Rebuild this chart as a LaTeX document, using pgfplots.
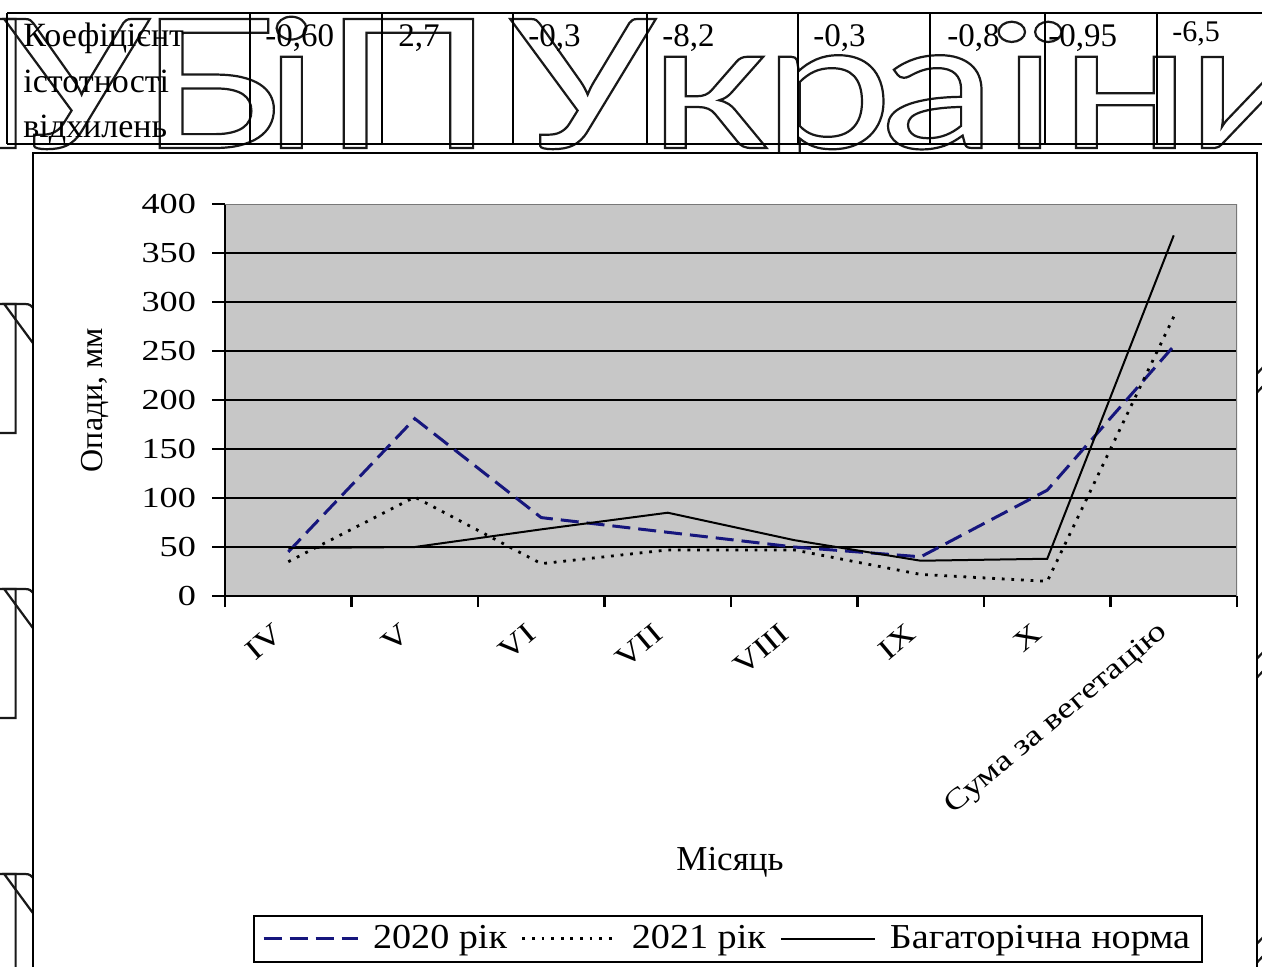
\documentclass[border=0pt]{standalone}
\usepackage{fontspec}
\setmainfont{Liberation Serif}
\newfontfamily\tickfont[FakeStretch=1.25]{Liberation Serif}
\newfontfamily\legfont[FakeStretch=1.09]{Liberation Serif}
\newfontfamily\wmfont[FakeStretch=1.3]{Lato}
\usepackage{pgfplots}
\pgfplotsset{compat=1.18}

\definecolor{plotgray}{RGB}{199,199,199}
\definecolor{framegray}{RGB}{120,120,120}
\definecolor{navyline}{RGB}{22,22,125}

% hollow (stroked) letters of the background lettering
\newcommand\hollow[1]{{\color{white}\special{pdf:literal direct 0.1 G 1 Tr 1.1 w}#1\special{pdf:literal direct 0 Tr}}}

% one row of the background lettering, baseline at #1 (in px units of the scope)
\newcommand\wmrow[1]{%
  \foreach \lx/\lt in {-142/Н,3/У,138/Б,263/і,322/П,509/У,648/к,762/р,880/а,1001/ї,1059/н,1185/и}{
    \node[anchor=base west, inner sep=0pt, font=\wmfont\fontsize{90}{92}\selectfont] at (\lx,#1) {\hollow{\lt}};
  }%
}

\begin{document}
\begin{tikzpicture}
\clip (0,0) rectangle (631pt,483pt);
\fill[white] (0,0) rectangle (631pt,483pt);

\begin{scope}[x=0.5pt, y=-0.5pt, yshift=483pt]
  % background lettering
  \wmrow{148}
  \wmrow{433}
  \wmrow{718}
  \wmrow{1003}

  % table row above the chart
  \begin{scope}[line width=0.7pt]
    \draw (7,13) -- (1270,13);
    \draw (7,144) -- (1270,144);
    \foreach \vx in {7,250,382,513,647,798,930,1045,1157}{
      \draw (\vx,13) -- (\vx,144);
    }
  \end{scope}
  \begin{scope}[every node/.style={anchor=base west, inner sep=0pt, font=\fontsize{17}{20}\selectfont}]
    \node at (23,47) {Коефіцієнт};
    \node at (23,93) {істотності};
    \node at (23,138) {відхилень};
  \end{scope}
  \begin{scope}[every node/.style={anchor=base west, inner sep=0pt, font=\fontsize{16.5}{19}\selectfont}]
    \node at (265,47) {-0,60};
    \node at (398,47) {2,7};
    \node at (528,47) {-0,3};
    \node at (662,47) {-8,2};
    \node at (813,47) {-0,3};
    \node at (947,47) {-0,8};
    \node at (1048,47) {-0,95};
    \node[font=\fontsize{15}{17}\selectfont] at (1172,42) {-6,5};
  \end{scope}

  % chart frame
  \draw[fill=white, line width=1.25pt] (33,153) rectangle (1257,990);
\end{scope}

\begin{axis}[
  at={(112.5pt,185pt)}, anchor=south west,
  scale only axis, width=506pt, height=196pt,
  xmin=-0.5, xmax=7.5, ymin=0, ymax=400,
  axis lines=left,
  axis line style={-, black, line width=1.2pt},
  axis background/.style={fill=plotgray},
  xtick={0,...,7},
  xticklabels={IV,V,VI,VII,VIII,IX,X,Сума за вегетацію},
  major x tick style={draw=none},
  minor xtick={-0.5,0.5,...,7.5},
  minor x tick style={black, line width=1.2pt},
  minor tick length=5.5pt,
  ytick={0,50,...,350},
  extra y ticks={400},
  extra y tick style={grid=none},
  ymajorgrids,
  grid style={black, line width=1pt},
  major tick length=6.5pt,
  tick align=outside,
  y tick style={black, line width=1.2pt},
  /pgf/number format/assume math mode=true,
  tick label style={font=\tickfont\fontsize{14.5}{17}\selectfont},
  yticklabel style={xshift=-4.5pt},
  xticklabel style={xshift=-2pt, yshift=-8pt, rotate=40, anchor=east},
  xlabel={Місяць},
  xlabel style={at={(axis description cs:0.499,-0.679)}, anchor=center, font=\fontsize{17.5}{20}\selectfont},
  ylabel={Опади, мм},
  ylabel style={at={(axis description cs:-0.1285,0.5)}, anchor=center, font=\fontsize{16}{19}\selectfont},
  legend columns=-1,
  legend style={at={(axis description cs:0.0277,-0.936)}, anchor=south west,
    draw=black, line width=1pt, fill=white,
    font=\legfont\fontsize{17.5}{20}\selectfont, inner xsep=4pt, inner ysep=3pt,
    /tikz/every even column/.append style={column sep=5pt}},
  legend image code/.code={\draw[#1] (0pt,0pt) -- (47pt,0pt); \path (52pt,0pt);},
]
% plot area border on the top and right
\draw[framegray, line width=0.8pt] (rel axis cs:0,1) -- (rel axis cs:1,1) -- (rel axis cs:1,0);

% 2020
\addplot[navyline, line width=1.5pt, dash pattern=on 9pt off 4pt] coordinates {
  (0,45) (1,181) (2,80) (3,65) (4,50) (5,40) (6,108) (7,255)
};
% 2021
\addplot[black, line width=1.4pt, dash pattern=on 1.4pt off 3.4pt] coordinates {
  (0,35) (1,101) (2,33) (3,47) (4,47) (5,22) (6,15) (7,285)
};
% long-term norm
\addplot[black, line width=1pt] coordinates {
  (0,49) (1,50) (2,68) (3,85) (4,57) (5,36) (6,38) (7,368)
};
\legend{2020 рік, 2021 рік, Багаторічна норма}
\end{axis}
\end{tikzpicture}
\end{document}
